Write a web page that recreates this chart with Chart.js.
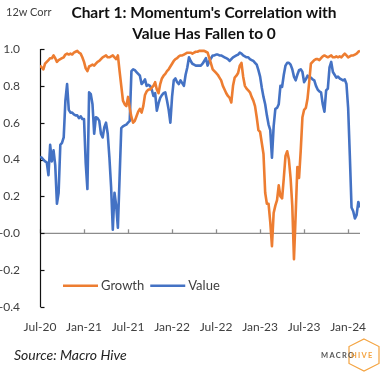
<!DOCTYPE html>
<html>
<head>
<meta charset="utf-8">
<script src="https://cdn.jsdelivr.net/npm/chart.js@4.4.1/dist/chart.umd.min.js"></script>
<style>
  html, body { margin: 0; padding: 0; background: #ffffff; }
  body { width: 392px; height: 376px; position: relative; overflow: hidden; font-family: Lato, "Open Sans", sans-serif; }
  #wrap { position: absolute; left: 0; top: 0; width: 392px; height: 376px; }
  #ylab { position: absolute; left: 6px; top: 5px; font-size: 11px; color: #404040; }
  #title { position: absolute; left: 18px; top: 2px; width: 372px; text-align: center; font-weight: bold; font-size: 15.5px; line-height: 21px; color: #111; }
  #source { position: absolute; left: 14px; top: 346px; font-style: italic; font-size: 14px; color: #222; }
  #logo { position: absolute; left: 318px; top: 337px; width: 70px; height: 36px; }
</style>
</head>
<body>
<div id="wrap"><canvas id="c" width="392" height="376"></canvas></div>
<div id="ylab">12w Corr</div>
<div id="title">Chart 1: Momentum's Correlation with<br>Value Has Fallen to 0</div>
<div id="source">Source: Macro Hive</div>
<svg id="logo" viewBox="0 0 70 36">
  <polygon points="46,2 61,9.5 61,26.5 46,34 31,26.5 31,9.5" fill="none" stroke="#F4A340" stroke-width="1.2"/>
  <text x="3" y="21" font-family="Lato, sans-serif" font-weight="bold" font-size="7.5" letter-spacing="1.3" fill="#555">MACRO</text>
  <text x="33" y="21" font-family="Lato, sans-serif" font-weight="bold" font-size="7.5" letter-spacing="1.3" fill="#F4A340">HIVE</text>
</svg>
<script>
// Tick labels for the x axis (weeks since Jul-20)
const tickWeeks = [0, 26, 52, 78, 104, 130, 156, 182];
const tickLabels = ['Jul-20', 'Jan-21', 'Jul-21', 'Jan-22', 'Jul-22', 'Jan-23', 'Jul-23', 'Jan-24'];

// 12-week rolling correlation of Momentum with Growth (weekly, from Jul-20)
const growth = [
  0.91, 0.90, 0.89, 0.92, 0.93, 0.94, 0.95, 0.95, 0.965, 0.95,
  0.93, 0.94, 0.945, 0.95, 0.955, 0.97, 0.975, 0.97, 0.975, 0.97,
  0.98, 0.985, 0.99, 0.98, 0.975, 0.955, 0.93, 0.895, 0.88, 0.905,
  0.91, 0.915, 0.91, 0.92, 0.93, 0.935, 0.945, 0.955, 0.96, 0.965,
  0.955, 0.955, 0.96, 0.965, 0.955, 0.945, 0.965, 0.88, 0.80, 0.72,
  0.70, 0.69, 0.74, 0.68, 0.63, 0.60, 0.61, 0.635, 0.66, 0.675,
  0.655, 0.69, 0.75, 0.77, 0.78, 0.78, 0.79, 0.80, 0.82, 0.78,
  0.76, 0.81, 0.84, 0.855, 0.865, 0.88, 0.89, 0.905, 0.92, 0.935,
  0.945, 0.95, 0.96, 0.965, 0.965, 0.97, 0.975, 0.98, 0.98, 0.98,
  0.975, 0.98, 0.985, 0.985, 0.99, 0.99, 0.99, 0.99, 0.985, 0.98,
  0.95, 0.92, 0.89, 0.88, 0.87, 0.86, 0.845, 0.83, 0.80, 0.78,
  0.76, 0.745, 0.735, 0.71, 0.80, 0.845, 0.855, 0.87, 0.91, 0.925,
  0.85, 0.80, 0.785, 0.775, 0.765, 0.74, 0.72, 0.69, 0.63, 0.56,
  0.55, 0.49, 0.43, 0.22, 0.16, 0.16, 0.06, -0.07, 0.11, 0.15,
  0.18, 0.26, 0.20, 0.19, 0.30, 0.42, 0.445, 0.40, 0.30, 0.15,
  -0.14, 0.10, 0.36, 0.30, 0.45, 0.63, 0.67, 0.68, 0.73, 0.82,
  0.92, 0.93, 0.94, 0.945, 0.945, 0.94, 0.95, 0.96, 0.965, 0.96,
  0.955, 0.96, 0.965, 0.955, 0.955, 0.96, 0.955, 0.96, 0.955, 0.965,
  0.975, 0.965, 0.955, 0.96, 0.965, 0.965, 0.97, 0.975, 0.985, 0.99
];

// 12-week rolling correlation of Momentum with Value (weekly, from Jul-20)
const value = [
  0.415, 0.41, 0.40, 0.39, 0.385, 0.315, 0.48, 0.39, 0.45, 0.37,
  0.16, 0.22, 0.48, 0.49, 0.52, 0.72, 0.81, 0.67, 0.655, 0.655,
  0.645, 0.64, 0.64, 0.625, 0.635, 0.62, 0.62, 0.38, 0.24, 0.765,
  0.755, 0.70, 0.54, 0.63, 0.625, 0.61, 0.54, 0.52, 0.575, 0.60,
  0.54, 0.41, 0.25, 0.02, 0.22, 0.15, 0.03, 0.30, 0.57, 0.58,
  0.585, 0.59, 0.60, 0.61, 0.88, 0.89, 0.885, 0.875, 0.865, 0.855,
  0.81, 0.82, 0.835, 0.80, 0.805, 0.80, 0.78, 0.745, 0.76, 0.665,
  0.705, 0.735, 0.75, 0.76, 0.765, 0.72, 0.67, 0.60, 0.74, 0.83,
  0.84, 0.82, 0.81, 0.83, 0.815, 0.80, 0.86, 0.90, 0.955, 0.935,
  0.92, 0.915, 0.91, 0.91, 0.91, 0.91, 0.92, 0.935, 0.95, 0.91,
  0.935, 0.95, 0.965, 0.965, 0.97, 0.97, 0.965, 0.965, 0.96, 0.955,
  0.95, 0.945, 0.935, 0.945, 0.955, 0.96, 0.965, 0.97, 0.98, 0.975,
  0.965, 0.96, 0.955, 0.955, 0.945, 0.94, 0.935, 0.925, 0.915, 0.885,
  0.85, 0.79, 0.74, 0.70, 0.64, 0.59, 0.56, 0.41, 0.58, 0.675,
  0.68, 0.70, 0.80, 0.795, 0.86, 0.91, 0.925, 0.925, 0.915, 0.89,
  0.85, 0.83, 0.86, 0.885, 0.89, 0.875, 0.82, 0.835, 0.855, 0.845,
  0.845, 0.835, 0.83, 0.80, 0.78, 0.77, 0.765, 0.70, 0.66, 0.775,
  0.785, 0.90, 0.93, 0.875, 0.86, 0.845, 0.85, 0.84, 0.835, 0.83,
  0.835, 0.81, 0.68, 0.42, 0.14, 0.12, 0.08, 0.10, 0.17, 0.14
];

const weekIndex = growth.map((_, i) => i);
const seriesNames = ['Growth', 'Value'];
const seriesColors = ['#ED7D31', '#4472C4'];

const axisPlugin = {
  id: 'excelAxes',
  beforeDatasetsDraw(chart) {
    const { ctx, chartArea, scales } = chart;
    const xs = scales.x, ys = scales.y;
    const y0 = ys.getPixelForValue(0);
    ctx.save();
    // zero line
    ctx.strokeStyle = '#8c8c8c';
    ctx.lineWidth = 1.3;
    ctx.beginPath();
    ctx.moveTo(chartArea.left, y0);
    ctx.lineTo(chartArea.right, y0);
    ctx.stroke();
    // x tick marks (upward from zero line)
    tickWeeks.forEach(w => {
      const px = Math.round(xs.getPixelForValue(w)) + 0.5;
      ctx.beginPath();
      ctx.moveTo(px, y0);
      ctx.lineTo(px, y0 - 4);
      ctx.stroke();
    });
    // y axis line + inward ticks
    ctx.strokeStyle = '#111';
    ctx.lineWidth = 1.2;
    const lx = chartArea.left + 0.5;
    ctx.beginPath();
    ctx.moveTo(lx, ys.getPixelForValue(ys.max));
    ctx.lineTo(lx, ys.getPixelForValue(ys.min));
    ctx.stroke();
    ys.ticks.forEach(t => {
      const py = Math.round(ys.getPixelForValue(t.value)) + 0.5;
      ctx.beginPath();
      ctx.moveTo(lx, py);
      ctx.lineTo(lx + 4, py);
      ctx.stroke();
    });
    ctx.restore();
  },
  afterDraw(chart) {
    const { ctx, chartArea, scales } = chart;
    const ly = scales.y.getPixelForValue(-0.285);
    ctx.save();
    ctx.font = '13px Lato, "Open Sans", sans-serif';
    ctx.textBaseline = 'middle';
    ctx.fillStyle = '#404040';
    let x = chartArea.left + 23;
    chart.data.datasets.forEach((ds, i) => {
      ctx.strokeStyle = ds.borderColor;
      ctx.lineWidth = 2.6;
      ctx.beginPath();
      ctx.moveTo(x, ly);
      ctx.lineTo(x + 35, ly);
      ctx.stroke();
      ctx.fillText(ds.label, x + 38, ly);
      x += 38 + ctx.measureText(ds.label).width + 6;
    });
    ctx.restore();
  }
};

new Chart(document.getElementById('c'), {
  type: 'line',
  data: {
    labels: weekIndex,
    datasets: [growth, value].map((arr, i) => ({
      label: seriesNames[i],
      data: arr.map((v, k) => ({ x: weekIndex[k], y: v })),
      borderColor: seriesColors[i],
      backgroundColor: seriesColors[i],
      borderWidth: 2.6,
      pointRadius: 0,
      tension: 0,
      borderJoinStyle: 'round'
    }))
  },
  options: {
    responsive: false,
    animation: false,
    layout: { padding: { left: 0, right: 32, top: 49, bottom: 39 } },
    plugins: { legend: { display: false }, title: { display: false }, tooltip: { enabled: false } },
    scales: {
      x: {
        type: 'linear',
        min: 0,
        max: 189,
        afterBuildTicks(scale) { scale.ticks = tickWeeks.map(v => ({ value: v })); },
        afterFit(scale) { scale.height = 30; },
        grid: { display: false },
        border: { display: false },
        ticks: {
          padding: 5,
          maxRotation: 0,
          autoSkip: false,
          color: '#404040',
          font: { family: 'Lato, "Open Sans", sans-serif', size: 12 },
          callback(v) { const i = tickWeeks.indexOf(v); return i >= 0 ? tickLabels[i] : ''; }
        }
      },
      y: {
        min: -0.4,
        max: 1.0,
        afterFit(scale) { scale.width = 40; },
        grid: { display: false },
        border: { display: false },
        ticks: {
          stepSize: 0.2,
          padding: 12,
          color: '#404040',
          font: { family: 'Lato, "Open Sans", sans-serif', size: 12 },
          callback(v) { return Number(v).toFixed(1); }
        }
      }
    }
  },
  plugins: [axisPlugin]
});
</script>
</body>
</html>
